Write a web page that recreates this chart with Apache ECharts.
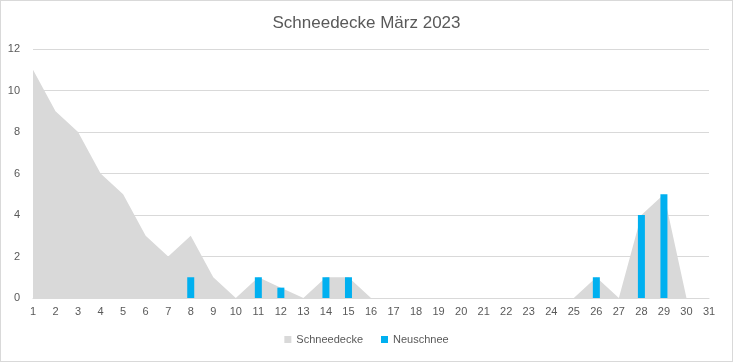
<!DOCTYPE html>
<html><head><meta charset="utf-8">
<script src="https://cdn.jsdelivr.net/npm/echarts@6/dist/echarts.min.js"></script>
<style>html,body{margin:0;padding:0;background:#fff}#c{width:733px;height:362px;box-sizing:border-box;border:1px solid #d9d9d9}</style>
</head><body><div id="c"></div>
<script>
const days = ['1','2','3','4','5','6','7','8','9','10','11','12','13','14','15','16','17','18','19','20','21','22','23','24','25','26','27','28','29','30','31'];
const schneedecke = [11,9,8,6,5,3,2,3,1,0,1,0.5,0,1,1,0,0,0,0,0,0,0,0,0,0,1,0,4,5,0,0];
const neuschnee = [null,null,null,null,null,null,null,1,null,null,1,0.5,null,1,1,null,null,null,null,null,null,null,null,null,null,1,null,4,5,null,null];
const yTicks = {min:0, max:12, interval:2};
const chart = echarts.init(document.getElementById('c'));
const font = 'Liberation Sans';
chart.setOption({
  animation:false,
  title:{text:'Schneedecke März 2023',left:'center',top:9,textStyle:{fontFamily:font,fontSize:17,fontWeight:'normal',color:'#595959'}},
  grid:{left:32,right:23,top:48,bottom:63},
  legend:{bottom:11,left:'center',itemWidth:7,itemHeight:7,itemGap:18,icon:'rect',textStyle:{fontFamily:font,fontSize:11,color:'#595959'},
    data:[{name:'Schneedecke',itemStyle:{color:'#d9d9d9'}},{name:'Neuschnee',itemStyle:{color:'#00b0f0'}}]},
  xAxis:{type:'category',data:days,boundaryGap:false,axisLine:{lineStyle:{color:'#d9d9d9'}},axisTick:{show:false},
    axisLabel:{interval:0,color:'#595959',fontFamily:font,fontSize:11,margin:8}},
  yAxis:{type:'value',min:yTicks.min,max:yTicks.max,interval:yTicks.interval,splitLine:{lineStyle:{color:'#d9d9d9'}},
    axisLabel:{color:'#595959',fontFamily:font,fontSize:11,margin:13}},
  series:[
    {name:'Schneedecke',type:'line',z:1,data:schneedecke,symbol:'none',lineStyle:{width:0},areaStyle:{color:'#d9d9d9',opacity:1},itemStyle:{color:'#d9d9d9'}},
    {name:'Neuschnee',type:'bar',z:5,data:neuschnee,barWidth:7,itemStyle:{color:'#00b0f0'}}
  ]
});
</script></body></html>
